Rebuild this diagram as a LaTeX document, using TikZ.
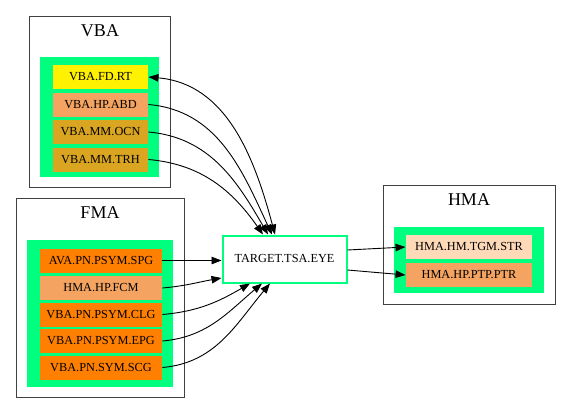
\documentclass[tikz,border=0pt]{standalone}
\usepackage{fontspec}
\setmainfont{Liberation Serif}
\usepackage{tikz}
\usetikzlibrary{arrows.meta}
\usepackage{xcolor}
\definecolor{sgreen}{HTML}{00FF7F}
\definecolor{dorange}{HTML}{FF8000}
\definecolor{gold}{HTML}{DAA520}
\definecolor{sandy}{HTML}{F4A460}
\definecolor{peach}{HTML}{FFDAB9}
\definecolor{frame}{HTML}{404040}

\begin{document}
\begin{tikzpicture}[x=1pt,y=-1pt,>={Triangle[length=10pt,width=7.5pt]},line width=0.9pt,
  every node/.style={font=\fontsize{12.3}{14}\selectfont,inner sep=0pt},
  item/.style={fill=#1,minimum height=24pt},
  vitem/.style={item=#1,minimum width=95pt},
  fitem/.style={item=#1,minimum width=122pt},
  hitem/.style={item=#1,minimum width=126pt},
  clus/.style={draw=frame,line width=1pt},
  title/.style={font=\fontsize{18}{20}\selectfont}]
\useasboundingbox (0,0) rectangle (571,413);
% clusters
\draw[clus] (29,16) rectangle (170,187);\fill[sgreen] (40,57) rectangle (159,177);
\draw[clus] (16,198) rectangle (184,397);\fill[sgreen] (27,240) rectangle (173,387);
\draw[clus] (383,185) rectangle (555,304);\fill[sgreen] (394,227) rectangle (544,293);
\node[title](vba) at (100,31){VBA};
\node[title](fma) at (100,213){FMA};
\node[title](hma) at (469,200){HMA};
% VBA
\node[vitem=yellow](rt) at (100.5,77){VBA.FD.RT};
\node[vitem=sandy](abd) at (100.5,104.5){VBA.HP.ABD};
\node[vitem=gold](ocn) at (100.5,132){VBA.MM.OCN};
\node[vitem=gold](trh) at (100.5,159.5){VBA.MM.TRH};
% FMA
\node[fitem=dorange](spg) at (101,260.5){AVA.PN.PSYM.SPG};
\node[fitem=sandy](fcm) at (101,288){HMA.HP.FCM};
\node[fitem=dorange](clg) at (101,314.5){VBA.PN.PSYM.CLG};
\node[fitem=dorange](epg) at (101,341){VBA.PN.PSYM.EPG};
\node[fitem=dorange](scg) at (101,367.5){VBA.PN.SYM.SCG};
% HMA
\node[hitem=peach](str) at (469,247){HMA.HM.TGM.STR};
\node[hitem=sandy](ptr) at (469,275){HMA.HP.PTP.PTR};
% target
\node[draw=sgreen,line width=2pt,fill=white,minimum width=124pt,minimum height=47pt](tgt) at (284.5,259){TARGET.TSA.EYE};
% edges
\draw[<->](rt.east) to[out=-5,in=105] ([xshift=-9.5pt]tgt.north);
\draw[->](abd.east) to[out=-5,in=115] ([xshift=-12.5pt]tgt.north);
\draw[->](ocn.east) to[out=-5,in=120] ([xshift=-16.5pt]tgt.north);
\draw[->](trh.east) to[out=-5,in=125] ([xshift=-21.5pt]tgt.north);
\draw[->](spg.east)--(spg.east-|tgt.west);
\draw[->](fcm.east) to[out=5,in=190] ([yshift=-19pt]tgt.west);
\draw[->](clg.east) to[out=5,in=210] ([xshift=-34.5pt]tgt.south);
\draw[->](epg.east) to[out=5,in=220] ([xshift=-22.5pt]tgt.south);
\draw[->](scg.east) to[out=5,in=230] ([xshift=-14.5pt]tgt.south);
\draw[->]([yshift=9pt]tgt.east)--(str.west);
\draw[->]([yshift=-11pt]tgt.east)--(ptr.west);
\end{tikzpicture}
\end{document}
